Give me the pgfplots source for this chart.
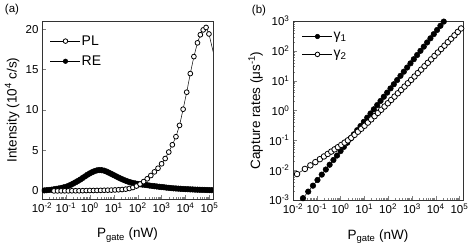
\documentclass[border=0pt]{standalone}
\usepackage{fontspec}
\setmainfont{Liberation Sans}
\usepackage{pgfplots}
\pgfplotsset{compat=1.18}
\begin{document}
\begin{tikzpicture}
\path[use as bounding box] (0pt,0pt) rectangle (469pt,247pt);
\node[font=\fontsize{11.5}{12}\selectfont] at (12pt,237pt) {(a)};
\node[font=\fontsize{11.5}{12}\selectfont] at (259pt,236pt) {(b)};
% ---------------- panel (a)
\begin{axis}[scale only axis, at={(42pt,48pt)}, anchor=south west, width=171pt, height=178pt,
  xmode=log, xmin=1e-2, xmax=1.41e5,
  xtick={1e-2,1e-1,1,1e1,1e2,1e3,1e4,1e5},
  xticklabels={10\textsuperscript{-2},10\textsuperscript{-1},10\textsuperscript{0},10\textsuperscript{1},10\textsuperscript{2},10\textsuperscript{3},10\textsuperscript{4},10\textsuperscript{5}},
  tick align=inside, tick pos=left,
  axis line style={line width=0.7pt, black!80},
  major tick length=4pt, minor tick length=2pt,
  tick label style={font=\fontsize{11.5}{12}\selectfont},
  label style={font=\fontsize{13.5}{15}\selectfont},
  xlabel={P\textsubscript{gate} (nW)},
  xlabel style={at={(axis description cs:0.5,-0.219)}, anchor=base},
  clip marker paths=true,
  legend cell align=left,
  reverse legend,
  legend image code/.code={\draw[mark repeat=2,mark phase=2] plot coordinates {(0pt,0pt) (15pt,0pt) (30pt,0pt)};},
  legend image post style={mark size=2.3pt},
  legend style={draw=none, fill=none, inner sep=0pt, row sep=7pt,
    nodes={inner sep=1pt, font=\fontsize{14}{14}\selectfont},
    at={(axis description cs:0.047,0.925)}, anchor=north west},
  ymin=-1, ymax=21, ytick={0,5,10,15,20}, yticklabels={0,5,10,15,20},
  ylabel={Intensity (10\textsuperscript{4} c/s)},
  ylabel style={at={(axis description cs:-0.175,0.5)}, anchor=center},
]
\addplot[black, line width=0.5pt, mark=*, mark size=2.8pt] coordinates {
(1.259e-2,0.06) (1.585e-2,0.09) (1.995e-2,0.12) (2.512e-2,0.15) (3.162e-2,0.20)
(3.981e-2,0.25) (5.012e-2,0.30) (6.310e-2,0.36) (7.943e-2,0.43) (0.1,0.50)
(0.1259,0.62) (0.1585,0.75) (0.1995,0.90) (0.2512,1.06) (0.3162,1.23)
(0.3981,1.40) (0.5012,1.60) (0.6310,1.80) (0.7943,2.00) (1.0,2.17)
(1.259,2.32) (1.585,2.45) (1.995,2.54) (2.512,2.58) (3.162,2.56)
(3.981,2.50) (5.012,2.39) (6.310,2.25) (7.943,2.10) (10,1.95)
(12.59,1.80) (15.85,1.65) (19.95,1.51) (25.12,1.38) (31.62,1.26)
(39.81,1.15) (50.12,1.06) (63.10,0.98) (79.43,0.92) (100,0.86)
(125.9,0.82) (158.5,0.78) (199.5,0.75) (251.2,0.71) (316.2,0.66)
(398.1,0.62) (501.2,0.58) (631.0,0.55) (794.3,0.51) (1000,0.48)
(1259,0.45) (1585,0.41) (1995,0.38) (2512,0.35) (3162,0.32)
(3981,0.30) (5012,0.28) (6310,0.26) (7943,0.24) (10000,0.22)
(12590,0.21) (15850,0.19) (19950,0.18) (25120,0.16) (31620,0.15)
(39810,0.14) (50120,0.13) (63100,0.12) (79430,0.11) (100000,0.10)
(125900,0.09)
};
\addlegendentry{RE}
\addplot[black, line width=0.5pt, mark=*, mark size=2.4pt, mark options={fill=white, line width=0.8pt}] coordinates {
(3.162e-2,0.00) (4.467e-2,0.00) (6.310e-2,0.01) (8.913e-2,0.01) (0.1259,0.01)
(0.1778,0.02) (0.2512,0.02) (0.3548,0.02) (0.5012,0.03) (0.7079,0.04)
(1.0,0.05) (1.413,0.05) (1.995,0.06) (2.818,0.07) (3.981,0.08)
(5.623,0.09) (7.943,0.10) (11.22,0.12) (15.85,0.14) (22.39,0.17)
(31.62,0.22) (44.67,0.30) (63.10,0.42) (89.13,0.60) (125.9,0.85)
(177.8,1.15) (251.2,1.50) (354.8,1.90) (501.2,2.35) (707.9,2.80)
(1000,3.35) (1413,4.00) (1995,4.80) (2818,5.70) (3981,6.70)
(5623,8.10) (7943,10.1) (11220,12.2) (15850,14.5) (22390,16.6)
(31620,18.3) (41690,19.3) (54950,19.9) (72440,20.2) (95500,19.4)
(199500,15.4)
};
\addlegendentry{PL}
\end{axis}
% ---------------- panel (b)
\begin{axis}[scale only axis, at={(293pt,47pt)}, anchor=south west, width=170pt, height=179pt,
  xmode=log, xmin=1e-2, xmax=1.41e5,
  xtick={1e-2,1e-1,1,1e1,1e2,1e3,1e4,1e5},
  xticklabels={10\textsuperscript{-2},10\textsuperscript{-1},10\textsuperscript{0},10\textsuperscript{1},10\textsuperscript{2},10\textsuperscript{3},10\textsuperscript{4},10\textsuperscript{5}},
  tick align=inside, tick pos=left,
  axis line style={line width=0.7pt, black!80},
  major tick length=4pt, minor tick length=2pt,
  tick label style={font=\fontsize{11.5}{12}\selectfont},
  label style={font=\fontsize{13.5}{15}\selectfont},
  xlabel={P\textsubscript{gate} (nW)},
  xlabel style={at={(axis description cs:0.5,-0.218)}, anchor=base},
  legend cell align=left,
  legend image code/.code={\draw[mark repeat=2,mark phase=2] plot coordinates {(0pt,0pt) (15pt,0pt) (30pt,0pt)};},
  legend image post style={mark size=2.3pt},
  legend style={draw=none, fill=none, inner sep=0pt, row sep=7pt,
    nodes={inner sep=1pt, font=\fontsize{14}{14}\selectfont},
    at={(axis description cs:0.053,0.945)}, anchor=north west},
  ymode=log, ymin=1e-3, ymax=1e3,
  ytick={1e-3,1e-2,1e-1,1,1e1,1e2,1e3},
  yticklabels={10\textsuperscript{-3},10\textsuperscript{-2},10\textsuperscript{-1},10\textsuperscript{0},10\textsuperscript{1},10\textsuperscript{2},10\textsuperscript{3}},
  ylabel={Capture rates (μs\textsuperscript{-1})},
  ylabel style={at={(axis description cs:-0.22,0.5)}, anchor=center},
]
\addplot[black, line width=0.5pt, mark=*, mark size=2.8pt] coordinates {
(0.0263,0.00115) (0.0437,0.00191) (0.0692,0.00302) (0.107,0.00468) (0.162,0.00709)
(0.240,0.0105) (0.347,0.0152) (0.501,0.0219) (0.708,0.0309) (1.0,0.0437)
(1.38,0.0603) (1.91,0.0833) (2.63,0.115) (3.63,0.159) (5.01,0.219)
(6.92,0.302) (9.55,0.417) (13.2,0.575) (18.2,0.794) (25.1,1.10)
(34.7,1.52) (47.9,2.09) (66.1,2.89) (91.2,3.98) (126,5.50)
(174,7.59) (240,10.5) (331,14.5) (457,20.0) (631,27.6)
(871,38.0) (1202,52.5) (1660,72.4) (2291,100) (3162,138)
(4365,191) (6026,263) (8318,363) (11482,501) (15849,692)
(21878,955)
};
\addlegendentry{γ\textsubscript{1}}
\addplot[black, line width=0.5pt, mark=*, mark size=2.8pt, mark options={fill=white, line width=0.8pt}] coordinates {
(0.0148,0.00741) (0.0316,0.0110) (0.0537,0.0145) (0.0871,0.0186) (0.135,0.0234)
(0.200,0.0288) (0.288,0.0350) (0.407,0.0420) (0.562,0.0498) (0.776,0.0591)
(1.07,0.0703) (1.48,0.0838) (2.04,0.100) (2.82,0.122) (3.89,0.153)
(5.37,0.194) (7.41,0.244) (10.2,0.308) (14.1,0.394) (19.5,0.505)
(26.9,0.647) (37.2,0.830) (51.3,1.06) (70.8,1.36) (97.7,1.75)
(135,2.26) (186,2.92) (257,3.78) (355,4.90) (490,6.34)
(676,8.20) (933,10.6) (1288,13.8) (1778,18.0) (2455,23.4)
(3388,30.5) (4677,39.7) (6457,51.8) (8913,67.5) (12303,87.9)
(16982,115) (23442,149) (32359,195) (44668,254) (61660,330)
(85114,431) (117490,562)
};
\addlegendentry{γ\textsubscript{2}}
\end{axis}
\end{tikzpicture}
\end{document}
